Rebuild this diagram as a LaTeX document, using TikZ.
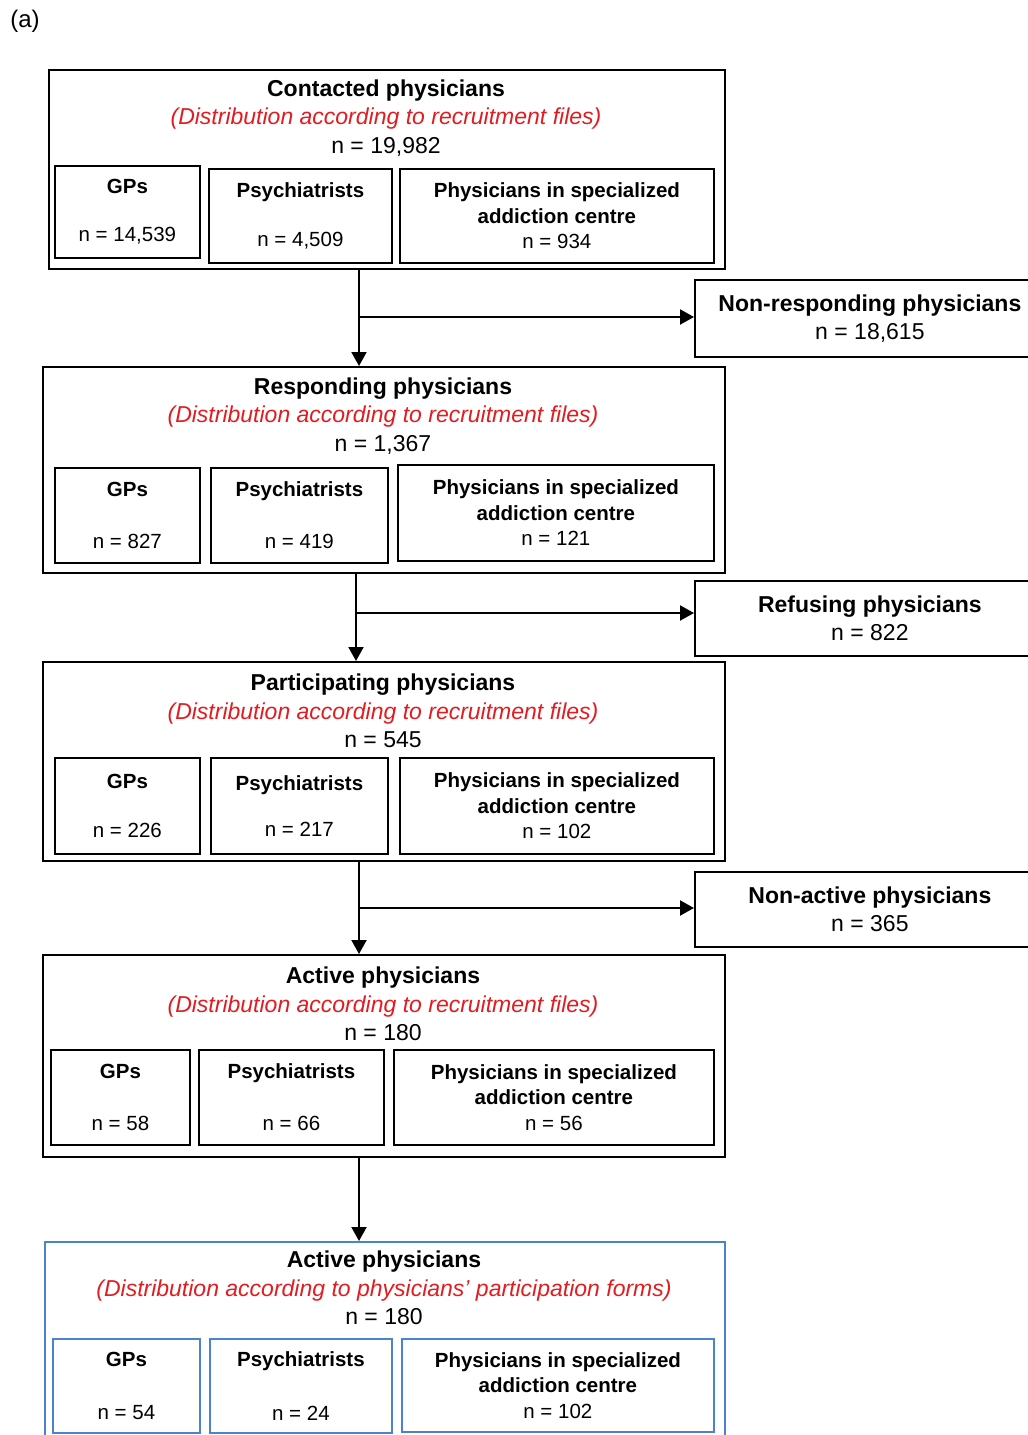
\documentclass[tikz,border=0pt]{standalone}
\usepackage{fontspec}
\setmainfont{Liberation Sans}
\usetikzlibrary{arrows.meta}
\definecolor{distred}{RGB}{226,28,32}
\definecolor{formblue}{RGB}{74,132,204}
\newcommand{\bigfont}{\fontsize{23}{28.5}\selectfont}
\newcommand{\smallfont}{\fontsize{20.5}{25.5}\selectfont}
\newcommand{\dist}[1]{{\color{distred}\itshape #1}}
\tikzset{
  bigbox/.style={draw, line width=1.8pt, anchor=north west, inner sep=0pt},
  subbox/.style={draw, line width=1.8pt, anchor=north west, inner sep=0pt, align=center, font=\smallfont},
  sidebox/.style={draw, line width=1.8pt, anchor=north west, inner sep=0pt, align=center, font=\bigfont},
  headtext/.style={align=center, font=\bigfont, inner sep=0pt},
  flow/.style={line width=2pt, -{Triangle[length=14pt,width=15pt]}}
}
\begin{document}
\begin{tikzpicture}[x=1pt,y=1pt,yscale=-1]
\clip (0,0) rectangle (1028,1435);
\fill[white] (0,0) rectangle (1028,1435);
\node[font=\fontsize{24}{28}\selectfont, inner sep=0pt] (label) at (25,21) {(a)};
% contacted
\node[bigbox, minimum width=676, minimum height=199] (contacted) at (48,69) {};
\node[headtext] (contactedtxt) at (386,118) {\textbf{Contacted physicians}\\\dist{(Distribution according to recruitment files)}\\n = 19,982};
\node[subbox, minimum width=145, minimum height=92] (contactedgp) at (54,165) {\textbf{GPs}\\[23pt]n = 14,539};
\node[subbox, minimum width=183, minimum height=94] (contactedpsy) at (208,168) {\textbf{Psychiatrists}\\[23pt]n = 4,509};
\node[subbox, minimum width=314, minimum height=94] (contactedadd) at (399,168) {\textbf{Physicians in specialized}\\\textbf{addiction centre}\\n = 934};
\node[sidebox, minimum width=350, minimum height=77] (nonresp) at (694,279) {\textbf{Non-responding physicians}\\n = 18,615};
% responding
\node[bigbox, minimum width=682, minimum height=206] (responding) at (42,366) {};
\node[headtext] (respondingtxt) at (383,416) {\textbf{Responding physicians}\\\dist{(Distribution according to recruitment files)}\\n = 1,367};
\node[subbox, minimum width=145, minimum height=95] (respondinggp) at (54,467) {\textbf{GPs}\\[26pt]n = 827};
\node[subbox, minimum width=177, minimum height=95] (respondingpsy) at (210,467) {\textbf{Psychiatrists}\\[26pt]n = 419};
\node[subbox, minimum width=316, minimum height=96] (respondingadd) at (397,464) {\textbf{Physicians in specialized}\\\textbf{addiction centre}\\n = 121};
\node[sidebox, minimum width=350, minimum height=75] (refusing) at (694,580) {\textbf{Refusing physicians}\\n = 822};
% participating
\node[bigbox, minimum width=682, minimum height=199] (participating) at (42,661) {};
\node[headtext] (participatingtxt) at (383,711) {\textbf{Participating physicians}\\\dist{(Distribution according to recruitment files)}\\n = 545};
\node[subbox, minimum width=145, minimum height=96] (participatinggp) at (54,757) {\textbf{GPs}\\[23pt]n = 226};
\node[subbox, minimum width=177, minimum height=96] (participatingpsy) at (210,757) {\textbf{Psychiatrists}\\[21pt]n = 217};
\node[subbox, minimum width=314, minimum height=96] (participatingadd) at (399,757) {\textbf{Physicians in specialized}\\\textbf{addiction centre}\\n = 102};
\node[sidebox, minimum width=350, minimum height=75] (nonactive) at (694,871) {\textbf{Non-active physicians}\\n = 365};
% active
\node[bigbox, minimum width=682, minimum height=202] (active) at (42,954) {};
\node[headtext] (activetxt) at (383,1004) {\textbf{Active physicians}\\\dist{(Distribution according to recruitment files)}\\n = 180};
\node[subbox, minimum width=139, minimum height=95] (activegp) at (50,1049) {\textbf{GPs}\\[26pt]n = 58};
\node[subbox, minimum width=185, minimum height=95] (activepsy) at (198,1049) {\textbf{Psychiatrists}\\[26pt]n = 66};
\node[subbox, minimum width=320, minimum height=95] (activeadd) at (393,1049) {\textbf{Physicians in specialized}\\\textbf{addiction centre}\\n = 56};
% active, participation forms
\node[bigbox, draw=formblue, minimum width=680, minimum height=210] (activeforms) at (44,1241) {};
\node[headtext] (activeformstxt) at (384,1288) {\textbf{Active physicians}\\\dist{(Distribution according to physicians' participation forms)}\\n = 180};
\node[subbox, draw=formblue, minimum width=147, minimum height=94] (activeformsgp) at (52,1338) {\textbf{GPs}\\[28pt]n = 54};
\node[subbox, draw=formblue, minimum width=182, minimum height=94] (activeformspsy) at (209,1338) {\textbf{Psychiatrists}\\[28pt]n = 24};
\node[subbox, draw=formblue, minimum width=312, minimum height=93] (activeformsadd) at (401,1338) {\textbf{Physicians in specialized}\\\textbf{addiction centre}\\n = 102};
% arrows
\coordinate (split1) at (359,317);
\coordinate (split2) at (356,613);
\coordinate (split3) at (359,908);
\draw[flow] (contacted.south -| split1) -- (responding.north -| split1);
\draw[flow] (split1) -- (split1 -| nonresp.west);
\draw[flow] (responding.south -| split2) -- (participating.north -| split2);
\draw[flow] (split2) -- (split2 -| refusing.west);
\draw[flow] (participating.south -| split3) -- (active.north -| split3);
\draw[flow] (split3) -- (split3 -| nonactive.west);
\draw[flow] (active.south -| split3) -- (activeforms.north -| split3);
\end{tikzpicture}
\end{document}
